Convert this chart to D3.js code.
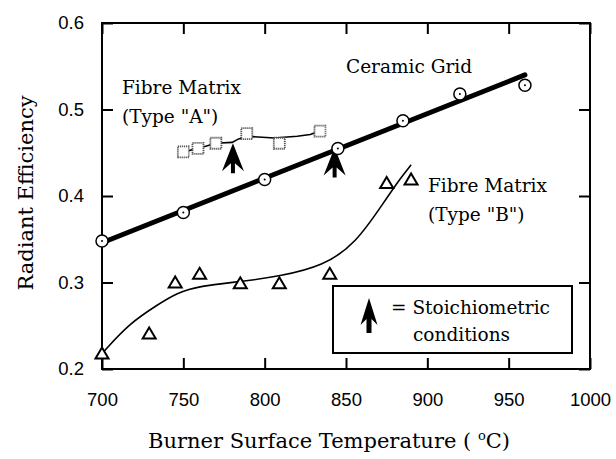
<!DOCTYPE html>
<html>
<head>
<meta charset="utf-8">
<script src="https://cdn.jsdelivr.net/npm/d3@7"></script>
<style>
  body { margin: 0; background: #fff; }
  .tick text { font-family: "Liberation Sans", Arial, sans-serif; font-size: 18.5px; fill: #000; }
  .lbl { font-family: "DejaVu Serif", serif; font-size: 18.5px; fill: #000; }
</style>
</head>
<body>
<svg id="chart" width="616" height="459"></svg>
<script>
'use strict';

// x ticks / y ticks
var xTicks = [700, 750, 800, 850, 900, 950, 1000];
var yTicks = [0.2, 0.3, 0.4, 0.5, 0.6];

// Ceramic Grid (circles) and its fitted line
var ceramicX = [700, 750, 800, 845, 885, 920, 960];
var ceramicY = [0.348, 0.381, 0.419, 0.455, 0.487, 0.518, 0.528];
var ceramicFitX = [700, 960];
var ceramicFitY = [0.346, 0.540];

// Fibre Matrix type A (squares) and its line
var typeAX = [750, 759, 770, 789, 809, 834];
var typeAY = [0.451, 0.455, 0.461, 0.472, 0.461, 0.475];
var typeALineX = [750, 759, 770, 780, 784, 789, 806, 820, 828, 834];
var typeALineY = [0.451, 0.455, 0.461, 0.462, 0.466, 0.469, 0.467, 0.469, 0.471, 0.475];

// Fibre Matrix type B (triangles) and its curve
var typeBX = [700, 729, 745, 760, 785, 809, 840, 875, 890];
var typeBY = [0.218, 0.241, 0.300, 0.310, 0.299, 0.299, 0.310, 0.415, 0.419];
var typeBCurveX = [701, 717, 734, 746, 760, 785, 809, 836, 856, 873, 884, 890];
var typeBCurveY = [0.220, 0.253, 0.274, 0.288, 0.296, 0.301, 0.307, 0.319, 0.345, 0.392, 0.422, 0.436];

// stoichiometric condition arrows (tip positions)
var arrowX = [780.5, 843];
var arrowY = [0.461, 0.456];

(function() {
  var svg = d3.select('#chart');
  var mLeft = 102, mRight = 590, mTop = 23, mBottom = 369;

  var x = d3.scaleLinear().domain([700, 1000]).range([mLeft, mRight]);
  var y = d3.scaleLinear().domain([0.2, 0.6]).range([mBottom, mTop]);

  function zip(xs, ys) {
    return xs.map(function(v, i) { return [v, ys[i]]; });
  }

  // axes, ticks pointing inward
  function styleAxis(g) {
    g.select('.domain').remove();
    g.selectAll('.tick line').attr('stroke', '#000').attr('stroke-width', 2);
  }

  svg.append('g')
    .attr('transform', 'translate(0,' + mBottom + ')')
    .call(d3.axisBottom(x).tickValues(xTicks).tickSizeInner(-11).tickSizeOuter(0).tickPadding(24)
      .tickFormat(d3.format('d')))
    .call(styleAxis);

  svg.append('g')
    .attr('transform', 'translate(0,' + mTop + ')')
    .call(d3.axisTop(x).tickValues(xTicks).tickSizeInner(-11).tickSizeOuter(0).tickFormat(''))
    .call(styleAxis);

  svg.append('g')
    .attr('transform', 'translate(' + mLeft + ',0)')
    .call(d3.axisLeft(y).tickValues(yTicks).tickSizeInner(-11).tickSizeOuter(0).tickPadding(18)
      .tickFormat(d3.format('.1f')))
    .call(styleAxis);

  svg.append('g')
    .attr('transform', 'translate(' + mRight + ',0)')
    .call(d3.axisRight(y).tickValues(yTicks).tickSizeInner(-11).tickSizeOuter(0).tickFormat(''))
    .call(styleAxis);

  svg.selectAll('.tick text').attr('fill', '#000');

  svg.append('rect')
    .attr('x', mLeft).attr('y', mTop)
    .attr('width', mRight - mLeft).attr('height', mBottom - mTop)
    .attr('fill', 'none').attr('stroke', '#000').attr('stroke-width', 2);

  var line = d3.line()
    .x(function(d) { return x(d[0]); })
    .y(function(d) { return y(d[1]); });

  // Ceramic grid line
  svg.append('path')
    .attr('d', line(zip(ceramicFitX, ceramicFitY)))
    .attr('fill', 'none').attr('stroke', '#000').attr('stroke-width', 5)
    .attr('stroke-linecap', 'round');

  // type A line
  svg.append('path')
    .attr('d', line(zip(typeALineX, typeALineY)))
    .attr('fill', 'none').attr('stroke', '#000').attr('stroke-width', 1.6);

  // type B curve
  svg.append('path')
    .attr('d', line.curve(d3.curveBasis)(zip(typeBCurveX, typeBCurveY)))
    .attr('fill', 'none').attr('stroke', '#000').attr('stroke-width', 1.6);
  line.curve(d3.curveLinear);

  // arrows
  var arrowPath = 'M0,0 L11,28 L2,20 L2,30 L-2,30 L-2,20 L-11,28 Z';
  svg.selectAll('path.arrow')
    .data(zip(arrowX, arrowY))
    .enter()
    .append('path')
    .attr('class', 'arrow')
    .attr('d', arrowPath)
    .attr('transform', function(d) { return 'translate(' + x(d[0]) + ',' + y(d[1]) + ')'; })
    .attr('fill', '#000');

  // squares
  svg.selectAll('rect.sq')
    .data(zip(typeAX, typeAY))
    .enter()
    .append('rect')
    .attr('class', 'sq')
    .attr('x', function(d) { return x(d[0]) - 5.5; })
    .attr('y', function(d) { return y(d[1]) - 5.5; })
    .attr('width', 11).attr('height', 11)
    .attr('fill', '#fff').attr('stroke', '#555').attr('stroke-width', 1.8)
    .attr('stroke-dasharray', '1.2,0.8');

  // triangles
  svg.selectAll('path.tri')
    .data(zip(typeBX, typeBY))
    .enter()
    .append('path')
    .attr('class', 'tri')
    .attr('d', 'M0,-6 L6.5,5 L-6.5,5 Z')
    .attr('transform', function(d) { return 'translate(' + x(d[0]) + ',' + y(d[1]) + ')'; })
    .attr('fill', '#fff').attr('stroke', '#000').attr('stroke-width', 2);

  // circles with centre dot
  var circ = svg.selectAll('g.circ')
    .data(zip(ceramicX, ceramicY))
    .enter()
    .append('g')
    .attr('class', 'circ')
    .attr('transform', function(d) { return 'translate(' + x(d[0]) + ',' + y(d[1]) + ')'; });
  circ.append('circle').attr('r', 6).attr('fill', '#fff').attr('stroke', '#000').attr('stroke-width', 1.5);
  circ.append('circle').attr('r', 1).attr('fill', '#000');

  // series labels
  function label(tx, ty, str) {
    svg.append('text').attr('class', 'lbl').attr('x', tx).attr('y', ty).text(str);
  }
  label(122, 94, 'Fibre Matrix');
  label(122, 123, '(Type "A")');
  label(346, 73, 'Ceramic Grid');
  label(428, 192, 'Fibre Matrix');
  label(428, 221, '(Type "B")');

  // legend
  svg.append('rect')
    .attr('x', 333).attr('y', 286).attr('width', 239).attr('height', 67)
    .attr('fill', '#fff').attr('stroke', '#000').attr('stroke-width', 2);
  svg.append('path')
    .attr('d', 'M0,0 L8.5,27 L2.5,21 L2.5,35 L-2.5,35 L-2.5,21 L-8.5,27 Z')
    .attr('transform', 'translate(369,298)')
    .attr('fill', '#000');
  label(391, 314, '= Stoichiometric');
  label(413, 341, 'conditions');

  // axis titles
  svg.append('text').attr('class', 'lbl')
    .attr('text-anchor', 'middle')
    .attr('fill', '#000')
    .attr('transform', 'translate(33,193) rotate(-90)')
    .style('font-size', '21px')
    .text('Radiant Efficiency');

  var xt = svg.append('text').attr('class', 'lbl')
    .attr('text-anchor', 'middle')
    .attr('x', 329).attr('y', 448)
    .style('font-size', '21px');
  xt.append('tspan').text('Burner Surface Temperature ( ');
  xt.append('tspan').attr('dy', -8).style('font-size', '13px').text('o');
  xt.append('tspan').attr('dy', 8).text('C)');
})();
</script>
</body>
</html>
